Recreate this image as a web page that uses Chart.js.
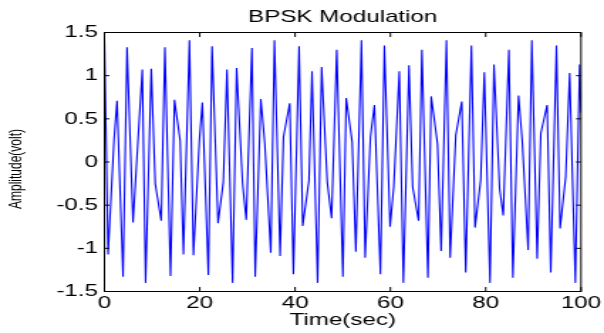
<!DOCTYPE html>
<html>
<head>
<meta charset="utf-8">
<script src="https://cdn.jsdelivr.net/npm/chart.js"></script>
<style>
  html, body { margin: 0; padding: 0; background: #fff; }
</style>
</head>
<body>
<!-- the source figure is stretched sideways, so the canvas is drawn narrow and widened by its inline style -->
<canvas id="bpsk" width="425" height="333" style="display:block;width:604px;height:333px"></canvas>
<script>
// corner points of the BPSK trace
const times = [
  0, 0.76, 2.0, 2.64, 3.90, 4.73, 5.99, 7.94, 8.63, 9.82,
  10.65, 11.91, 12.68, 13.86, 14.69, 15.88, 16.58, 17.83, 18.67, 19.92,
  20.55, 21.80, 22.57, 23.83, 24.94, 25.71, 26.89, 27.73, 28.98, 29.75,
  30.94, 31.63, 32.81, 33.65, 34.90, 35.67, 36.86, 37.56, 38.88, 39.65,
  40.84, 41.60, 42.92, 43.55, 44.73, 45.57, 46.75, 47.66, 48.74, 50.03,
  50.72, 51.98, 52.75, 53.93, 54.70, 55.81, 56.65, 57.91, 58.74, 59.93,
  60.70, 61.87, 62.72, 63.90, 64.67, 65.92, 66.61, 67.87, 68.56, 69.89,
  70.65, 71.77, 72.54, 73.72, 74.98, 75.81, 77.00, 77.76, 78.95, 79.71,
  80.90, 81.73, 82.92, 83.68, 84.87, 85.70, 86.89, 87.66, 88.91, 89.68,
  90.80, 91.56, 92.89, 93.65, 94.84, 95.61, 96.79, 97.62, 98.81, 99.7,
  100
];
const amplitudes = [
  1.41, -1.07, 0.25, 0.71, -1.33, 1.33, -0.70, 1.07, -1.40, 1.08,
  -0.25, -0.68, 1.33, -1.32, 0.72, 0.25, -1.07, 1.41, -1.08, 0.25,
  0.69, -1.31, 1.34, -0.71, -0.23, 1.07, -1.40, 1.09, -0.25, -0.67,
  1.32, -1.33, 0.73, 0.21, -1.05, 1.41, -1.09, 0.29, 0.68, -1.30,
  1.34, -0.74, -0.21, 1.05, -1.40, 1.10, -0.23, -0.65, 1.30, -1.33,
  0.74, 0.23, -1.04, 1.41, -1.11, 0.29, 0.66, -1.30, 1.35, -0.75,
  -0.29, 1.05, -1.40, 1.12, -0.29, -0.68, 1.30, -1.34, 0.76, 0.21,
  -1.03, 1.41, -1.11, 0.31, 0.70, -1.28, 1.35, -0.76, -0.21, 1.04,
  -1.40, 1.13, -0.31, -0.62, 1.30, -1.34, 0.77, 0.25, -1.02, 1.41,
  -1.12, 0.33, 0.66, -1.28, 1.35, -0.77, -0.17, 1.03, -1.40, 1.13,
  0.57
];
const xTicks = [0, 20, 40, 60, 80, 100];
const yTicks = [-1.5, -1, -0.5, 0, 0.5, 1, 1.5];

const chartTitle = 'BPSK Modulation';
const xLabel = 'Time(sec)';
const yLabel = 'Amplitude(volt)';

const fontFamily = '"Liberation Sans", Arial, Helvetica, sans-serif';

// matlab style box with inward ticks, plus the title and y label
const matlabAxes = {
  id: 'matlabAxes',
  afterDatasetsDraw(chart) {
    const { ctx, chartArea: a, scales: { x, y } } = chart;
    ctx.save();
    ctx.strokeStyle = '#000';
    ctx.lineWidth = 1;
    ctx.beginPath();
    xTicks.forEach(v => {
      const px = x.getPixelForValue(v);
      ctx.moveTo(px, a.bottom); ctx.lineTo(px, a.bottom - 4.5);
      ctx.moveTo(px, a.top); ctx.lineTo(px, a.top + 4.5);
    });
    yTicks.forEach(v => {
      const py = y.getPixelForValue(v);
      ctx.moveTo(a.left, py); ctx.lineTo(a.left + 3.5, py);
      ctx.moveTo(a.right, py); ctx.lineTo(a.right - 3.5, py);
    });
    ctx.stroke();
    ctx.strokeRect(a.left, a.top, a.right - a.left, a.bottom - a.top);

    ctx.fillStyle = '#000';
    ctx.textAlign = 'center';
    ctx.textBaseline = 'middle';
    ctx.font = '17px ' + fontFamily;
    ctx.fillText(chartTitle, (a.left + a.right) / 2, 17);

    ctx.translate(11.6, 169);
    ctx.rotate(-Math.PI / 2);
    ctx.font = '12px ' + fontFamily;
    ctx.fillText(yLabel, 0, 0);
    ctx.restore();
  }
};

const ctx = document.getElementById('bpsk').getContext('2d');
const bpskChart = new Chart(ctx, {
  type: 'line',
  data: {
    datasets: [{
      data: times.map((t, i) => ({ x: t, y: amplitudes[i] })),
      borderColor: '#0000ff',
      borderWidth: 1.1,
      pointRadius: 0,
      tension: 0,
      fill: false
    }]
  },
  options: {
    responsive: false,
    animation: false,
    layout: { padding: { top: 32.5, right: 14.5, bottom: 0, left: 0 } },
    plugins: {
      legend: { display: false },
      tooltip: { enabled: false },
      title: { display: false }
    },
    scales: {
      x: {
        type: 'linear',
        min: 0,
        max: 100,
        afterFit: s => { s.height = 41.5; },
        afterBuildTicks: s => { s.ticks = xTicks.map(v => ({ value: v })); },
        grid: { display: false, drawTicks: false },
        border: { display: false },
        ticks: {
          color: '#000',
          font: { family: fontFamily, size: 17 },
          padding: 2,
          maxRotation: 0,
          callback: v => String(v)
        },
        title: {
          display: true,
          text: xLabel,
          color: '#000',
          font: { family: fontFamily, size: 17 },
          padding: { top: 0, bottom: 2 }
        }
      },
      y: {
        type: 'linear',
        min: -1.5,
        max: 1.5,
        afterFit: s => { s.width = 73.5; },
        afterBuildTicks: s => { s.ticks = yTicks.map(v => ({ value: v })); },
        grid: { display: false, drawTicks: false },
        border: { display: false },
        ticks: {
          color: '#000',
          font: { family: fontFamily, size: 17 },
          padding: 4.5,
          callback: v => String(v)
        }
      }
    }
  },
  plugins: [matlabAxes]
});
</script>
</body>
</html>
